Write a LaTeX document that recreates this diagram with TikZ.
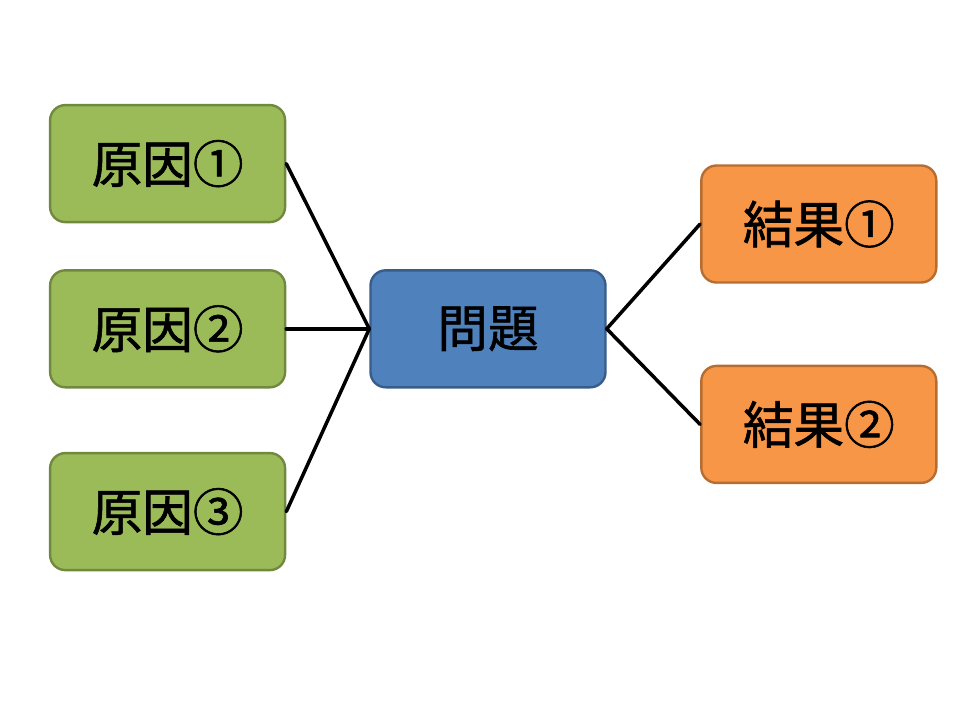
\documentclass[tikz,border=0pt]{standalone}
\usepackage{fontspec}
\newfontfamily\cjk[FakeBold=1.2]{Noto Sans CJK JP}
\usetikzlibrary{positioning}
\definecolor{causefill}{HTML}{9BBB59}
\definecolor{causeline}{HTML}{71893F}
\definecolor{issuefill}{HTML}{4F81BD}
\definecolor{issueline}{HTML}{385D8A}
\definecolor{effectfill}{HTML}{F79646}
\definecolor{effectline}{HTML}{B66D31}
\tikzset{
  box/.style    = {line width=1.7pt, minimum width=5.875cm, minimum height=2.925cm,
                   rounded corners=0.38cm, inner sep=0pt,
                   font=\cjk\fontsize{36}{42}\selectfont},
  cause/.style  = {box, draw=causeline, fill=causefill},
  issue/.style  = {box, draw=issueline, fill=issuefill},
  effect/.style = {box, draw=effectline, fill=effectfill},
  wire/.style   = {line width=2.5pt, black, line cap=round},
}
\begin{document}
\begin{tikzpicture}[x=1cm,y=1cm]
  \useasboundingbox (0,0) rectangle (24,-18);
  % causes
  \node[cause] (c1) at (4.19,-4.09)  {原因①};
  \node[cause] (c2) at (4.19,-8.22)  {原因②};
  \node[cause] (c3) at (4.19,-12.79) {原因③};
  % problem
  \node[issue] (p) at (12.2,-8.22) {問題};
  % results
  \node[effect] (r1) at (20.47,-5.6)   {結果①};
  \node[effect] (r2) at (20.47,-10.61) {結果②};
  % connectors
  \draw[wire] (c1.east) -- (p.west);
  \draw[wire] (c2.east) -- (p.west);
  \draw[wire] (c3.east) -- (p.west);
  \draw[wire] (p.east) -- (r1.west);
  \draw[wire] (p.east) -- (r2.west);
\end{tikzpicture}
\end{document}
